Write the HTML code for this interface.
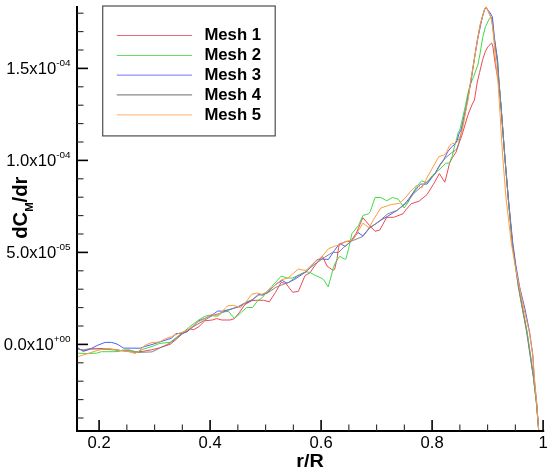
<!DOCTYPE html>
<html><head><meta charset="utf-8"><style>
html,body{margin:0;padding:0;background:#fff;}
svg{display:block;}
text{font-family:"Liberation Sans",Arial,sans-serif;fill:#000;}
.tl{font-size:16px;}
.sup{font-size:9.6px;}
.lg{font-size:16px;font-weight:bold;}
.al{font-size:19px;font-weight:bold;}
.als{font-size:11px;font-weight:bold;}
.ay{font-size:19.6px;font-weight:bold;}
</style></head><body>
<svg width="550" height="472" viewBox="0 0 550 472">
<g fill="none" stroke-width="1" stroke-linejoin="round">
<path d="M77.0 348.5 L78.2 348.5 L83.3 350.6 L90.5 349.2 L97.8 348.5 L106.5 348.5 L114.0 349.5 L121.3 350.6 L128.5 350.3 L135.8 351.7 L143.1 351.4 L146.7 350.6 L152.0 349.7 L159.3 347.9 L170.2 344.3 L176.0 339.5 L182.5 333.7 L188.4 330.5 L190.0 328.9 L193.7 329.7 L198.9 326.7 L204.8 320.8 L212.3 320.0 L216.7 318.6 L221.9 320.0 L230.0 320.0 L233.9 318.9 L239.0 313.0 L245.0 304.5 L251.7 300.7 L256.0 300.3 L263.6 300.3 L268.0 301.5 L269.3 301.8 L275.5 292.3 L281.2 282.3 L286.0 283.7 L292.7 292.3 L298.4 291.3 L305.0 275.6 L310.0 272.8 L315.1 265.2 L322.5 256.3 L327.0 266.0 L332.9 270.3 L334.6 269.4 L337.1 258.4 L338.6 247.3 L339.6 244.2 L342.0 243.1 L346.4 241.4 L350.8 241.4 L356.3 233.1 L362.9 217.7 L369.5 225.4 L375.0 231.3 L379.7 230.1 L386.7 217.3 L393.7 217.3 L403.0 213.8 L406.0 209.7 L411.2 203.8 L419.1 201.1 L427.0 194.6 L433.5 184.1 L439.4 173.6 L444.8 182.2 L446.7 175.0 L449.5 163.3 L452.4 157.6 L456.2 151.9 L459.0 143.3 L462.4 133.8 L463.5 130.0 L467.7 115.6 L471.9 105.0 L474.4 100.0 L475.1 95.9 L477.3 82.0 L479.6 72.4 L482.7 59.5 L485.5 51.2 L488.2 46.4 L491.7 43.0 L493.0 47.1 L494.4 58.1 L495.8 67.7 L497.2 74.8 L499.2 85.0 L501.3 110.0 L504.7 155.0 L508.4 200.0 L512.5 245.0 L515.5 265.0 L518.8 287.0 L523.0 310.0 L527.0 332.0 L530.5 355.0 L533.5 377.0 L536.5 403.0 L538.5 428.0 L538.6 430.5" stroke="#ec4a56"/>
<path d="M77.0 353.2 L78.2 353.2 L86.9 353.5 L96.4 353.2 L101.5 351.7 L114.0 351.7 L119.1 351.4 L123.5 349.9 L129.3 349.9 L134.4 351.7 L138.0 351.7 L143.1 349.2 L152.0 346.5 L159.3 343.5 L170.2 342.3 L176.0 337.7 L182.5 333.0 L190.0 326.5 L197.4 320.8 L204.8 316.3 L209.3 315.2 L214.5 316.0 L218.2 316.0 L222.7 311.9 L227.1 311.5 L229.0 311.8 L234.4 318.5 L240.7 313.0 L246.6 307.5 L252.6 307.5 L257.7 300.7 L262.7 297.3 L266.0 292.3 L271.7 286.6 L281.2 276.1 L287.0 278.0 L292.7 278.0 L299.3 274.7 L306.0 271.8 L310.0 272.4 L315.1 275.3 L321.0 277.9 L323.6 279.6 L328.2 286.8 L331.2 276.2 L333.3 267.7 L335.4 262.6 L339.7 256.3 L344.7 259.2 L345.9 259.0 L348.6 248.6 L351.9 233.7 L358.5 225.4 L362.9 215.5 L368.4 213.9 L370.3 211.5 L375.0 197.5 L380.8 197.5 L386.7 200.8 L392.5 197.5 L398.3 199.2 L404.2 208.0 L408.0 202.5 L411.2 195.9 L416.5 186.7 L421.7 180.8 L427.0 182.8 L432.2 175.6 L440.0 169.0 L445.7 163.3 L449.5 162.9 L452.4 155.7 L454.3 147.1 L456.2 140.5 L458.1 132.9 L459.8 130.0 L465.6 105.0 L467.5 95.0 L469.3 88.0 L471.3 82.0 L473.5 77.0 L477.8 65.0 L480.0 54.0 L482.7 37.5 L485.5 26.5 L489.6 18.2 L491.0 16.9 L492.4 21.0 L494.0 37.5 L497.4 60.0 L499.2 85.0 L501.3 110.0 L504.7 155.0 L508.4 200.0 L512.5 245.0 L515.3 265.0 L518.5 287.0 L522.6 310.0 L527.1 332.0 L530.2 355.0 L533.4 377.0 L536.4 403.0 L538.5 428.0 L538.6 430.5" stroke="#40dc48"/>
<path d="M77.0 348.1 L78.2 348.1 L83.3 351.4 L89.1 349.5 L97.8 345.2 L105.1 342.4 L111.6 342.4 L116.0 343.7 L118.4 344.8 L123.5 348.1 L140.2 348.2 L144.5 346.6 L152.0 344.5 L160.7 341.7 L171.6 338.1 L176.0 333.4 L181.1 333.7 L186.9 331.9 L190.0 329.3 L198.9 320.8 L208.6 316.7 L214.5 313.4 L217.5 311.1 L222.7 311.1 L230.0 309.3 L238.2 307.0 L245.0 303.6 L252.6 299.8 L258.5 294.3 L262.7 295.2 L267.0 292.7 L275.5 284.7 L282.2 280.4 L287.0 283.2 L294.6 279.4 L306.0 271.8 L310.1 267.6 L317.2 259.5 L322.3 259.0 L328.4 259.5 L334.5 250.3 L339.6 243.7 L342.0 244.7 L345.3 246.4 L350.8 241.4 L358.0 232.6 L362.9 235.9 L369.5 227.6 L375.1 224.3 L382.0 219.5 L387.8 216.2 L397.2 210.3 L406.0 202.5 L413.9 192.0 L420.4 184.1 L427.0 184.1 L434.9 173.6 L440.0 164.5 L443.8 159.5 L447.6 151.9 L451.4 147.1 L455.2 143.8 L457.1 140.5 L459.0 133.8 L461.1 130.0 L466.5 105.0 L470.9 82.0 L474.5 58.0 L477.5 40.0 L479.6 30.0 L482.6 16.1 L484.7 9.3 L486.0 7.6 L489.6 12.0 L492.4 16.9 L494.4 37.5 L497.6 60.0 L499.2 85.0 L501.3 110.0 L504.7 155.0 L508.3 198.0 L512.7 242.0 L515.8 265.0 L519.7 287.0 L525.2 310.0 L529.6 332.0 L532.8 355.0 L534.2 378.0 L536.7 403.0 L538.5 428.0 L538.6 430.5" stroke="#5060f5"/>
<path d="M77.0 349.5 L78.2 349.5 L83.3 349.9 L90.5 348.5 L106.5 349.5 L116.0 350.0 L135.8 352.5 L152.0 351.9 L159.3 348.3 L170.2 343.0 L176.0 338.5 L182.5 333.0 L190.0 328.6 L204.8 320.0 L212.3 315.6 L219.7 313.4 L228.0 310.4 L239.0 306.2 L245.0 302.8 L252.6 299.4 L258.5 295.2 L267.0 293.3 L275.5 287.5 L282.2 284.7 L288.9 282.3 L297.4 276.1 L305.0 272.2 L314.2 264.6 L324.4 257.4 L332.5 252.4 L338.6 252.4 L343.0 248.0 L350.8 241.4 L362.9 236.4 L369.5 228.2 L379.7 220.8 L387.8 213.8 L397.2 210.3 L407.0 202.6 L413.9 193.3 L423.0 185.4 L434.9 174.3 L440.0 165.2 L445.7 157.6 L451.4 152.9 L455.2 150.5 L456.7 149.0 L459.0 142.4 L461.8 130.0 L466.7 105.0 L470.6 82.0 L474.2 60.0 L477.3 40.0 L480.0 25.4 L482.5 16.1 L484.6 9.3 L486.0 7.0 L488.4 11.6 L491.1 17.8 L492.6 25.4 L494.0 37.5 L497.0 60.0 L499.2 85.0 L501.3 110.0 L504.7 155.0 L508.4 200.0 L512.5 245.0 L515.3 265.0 L518.3 287.0 L522.6 310.0 L526.6 332.0 L530.0 355.0 L533.4 377.0 L536.4 403.0 L538.5 428.0 L538.6 430.5" stroke="#858585"/>
<path d="M77.0 356.7 L78.2 356.5 L86.9 353.9 L97.8 350.3 L106.5 348.5 L114.0 349.5 L121.3 350.6 L128.5 351.4 L135.1 353.5 L139.5 350.6 L144.5 345.5 L152.0 342.5 L159.3 342.1 L165.1 338.8 L171.6 336.6 L179.6 333.0 L186.2 330.8 L190.0 328.2 L197.4 322.3 L204.8 318.6 L211.5 314.5 L216.7 316.0 L221.9 311.9 L226.0 307.4 L228.0 305.8 L233.1 305.3 L240.7 307.5 L245.0 303.2 L251.7 294.3 L256.8 293.0 L261.9 294.3 L266.0 292.3 L275.5 284.7 L281.2 279.9 L287.9 278.0 L293.6 273.2 L298.4 269.0 L302.2 269.9 L306.0 270.4 L314.2 262.5 L321.3 257.4 L328.4 248.8 L334.5 246.2 L339.6 245.2 L342.0 243.6 L346.4 241.4 L353.0 239.8 L362.9 223.2 L369.0 227.7 L374.5 218.0 L380.8 208.0 L391.3 204.5 L399.5 203.3 L406.0 197.2 L409.9 192.0 L416.5 185.4 L421.7 188.0 L425.7 180.2 L432.2 168.4 L438.8 156.6 L443.8 155.2 L446.7 151.9 L449.5 145.7 L452.4 143.3 L455.2 143.8 L457.6 141.4 L460.5 135.7 L462.4 130.0 L466.9 105.0 L468.1 100.0 L470.4 82.5 L473.3 65.0 L475.1 55.0 L477.5 40.0 L480.1 25.4 L482.6 16.1 L484.7 9.3 L486.0 6.8 L488.4 11.4 L491.1 17.8 L492.4 25.4 L493.7 37.5 L495.5 60.0 L498.2 85.0 L499.8 110.0 L502.6 155.0 L506.0 198.0 L511.3 243.0 L515.0 265.0 L519.6 288.0 L524.2 310.0 L529.3 332.0 L532.8 355.0 L534.4 378.0 L536.7 403.0 L538.5 428.0 L538.6 430.5" stroke="#ff9c40"/>
</g>
<path d="M77.0 6.0 V431.0 H544.2" fill="none" stroke="#000" stroke-width="2"/>
<line x1="77.0" y1="418.00" x2="83.50" y2="418.00" stroke="#2a2a2a" stroke-width="1.1"/>
<line x1="77.0" y1="399.60" x2="83.50" y2="399.60" stroke="#2a2a2a" stroke-width="1.1"/>
<line x1="77.0" y1="381.20" x2="83.50" y2="381.20" stroke="#2a2a2a" stroke-width="1.1"/>
<line x1="77.0" y1="362.80" x2="83.50" y2="362.80" stroke="#2a2a2a" stroke-width="1.1"/>
<line x1="77.0" y1="344.40" x2="88.00" y2="344.40" stroke="#000" stroke-width="1.6"/>
<line x1="77.0" y1="326.00" x2="83.50" y2="326.00" stroke="#2a2a2a" stroke-width="1.1"/>
<line x1="77.0" y1="307.60" x2="83.50" y2="307.60" stroke="#2a2a2a" stroke-width="1.1"/>
<line x1="77.0" y1="289.20" x2="83.50" y2="289.20" stroke="#2a2a2a" stroke-width="1.1"/>
<line x1="77.0" y1="270.80" x2="83.50" y2="270.80" stroke="#2a2a2a" stroke-width="1.1"/>
<line x1="77.0" y1="252.40" x2="88.00" y2="252.40" stroke="#000" stroke-width="1.6"/>
<line x1="77.0" y1="234.00" x2="83.50" y2="234.00" stroke="#2a2a2a" stroke-width="1.1"/>
<line x1="77.0" y1="215.60" x2="83.50" y2="215.60" stroke="#2a2a2a" stroke-width="1.1"/>
<line x1="77.0" y1="197.20" x2="83.50" y2="197.20" stroke="#2a2a2a" stroke-width="1.1"/>
<line x1="77.0" y1="178.80" x2="83.50" y2="178.80" stroke="#2a2a2a" stroke-width="1.1"/>
<line x1="77.0" y1="160.40" x2="88.00" y2="160.40" stroke="#000" stroke-width="1.6"/>
<line x1="77.0" y1="142.00" x2="83.50" y2="142.00" stroke="#2a2a2a" stroke-width="1.1"/>
<line x1="77.0" y1="123.60" x2="83.50" y2="123.60" stroke="#2a2a2a" stroke-width="1.1"/>
<line x1="77.0" y1="105.20" x2="83.50" y2="105.20" stroke="#2a2a2a" stroke-width="1.1"/>
<line x1="77.0" y1="86.80" x2="83.50" y2="86.80" stroke="#2a2a2a" stroke-width="1.1"/>
<line x1="77.0" y1="68.40" x2="88.00" y2="68.40" stroke="#000" stroke-width="1.6"/>
<line x1="77.0" y1="50.00" x2="83.50" y2="50.00" stroke="#2a2a2a" stroke-width="1.1"/>
<line x1="77.0" y1="31.60" x2="83.50" y2="31.60" stroke="#2a2a2a" stroke-width="1.1"/>
<line x1="77.0" y1="13.20" x2="83.50" y2="13.20" stroke="#2a2a2a" stroke-width="1.1"/>
<line x1="99.10" y1="431.0" x2="99.10" y2="420.00" stroke="#000" stroke-width="1.6"/>
<line x1="126.85" y1="431.0" x2="126.85" y2="424.50" stroke="#2a2a2a" stroke-width="1.1"/>
<line x1="154.60" y1="431.0" x2="154.60" y2="424.50" stroke="#2a2a2a" stroke-width="1.1"/>
<line x1="182.35" y1="431.0" x2="182.35" y2="424.50" stroke="#2a2a2a" stroke-width="1.1"/>
<line x1="210.10" y1="431.0" x2="210.10" y2="420.00" stroke="#000" stroke-width="1.6"/>
<line x1="237.85" y1="431.0" x2="237.85" y2="424.50" stroke="#2a2a2a" stroke-width="1.1"/>
<line x1="265.60" y1="431.0" x2="265.60" y2="424.50" stroke="#2a2a2a" stroke-width="1.1"/>
<line x1="293.35" y1="431.0" x2="293.35" y2="424.50" stroke="#2a2a2a" stroke-width="1.1"/>
<line x1="321.10" y1="431.0" x2="321.10" y2="420.00" stroke="#000" stroke-width="1.6"/>
<line x1="348.85" y1="431.0" x2="348.85" y2="424.50" stroke="#2a2a2a" stroke-width="1.1"/>
<line x1="376.60" y1="431.0" x2="376.60" y2="424.50" stroke="#2a2a2a" stroke-width="1.1"/>
<line x1="404.35" y1="431.0" x2="404.35" y2="424.50" stroke="#2a2a2a" stroke-width="1.1"/>
<line x1="432.10" y1="431.0" x2="432.10" y2="420.00" stroke="#000" stroke-width="1.6"/>
<line x1="459.85" y1="431.0" x2="459.85" y2="424.50" stroke="#2a2a2a" stroke-width="1.1"/>
<line x1="487.60" y1="431.0" x2="487.60" y2="424.50" stroke="#2a2a2a" stroke-width="1.1"/>
<line x1="515.35" y1="431.0" x2="515.35" y2="424.50" stroke="#2a2a2a" stroke-width="1.1"/>
<line x1="543.10" y1="431.0" x2="543.10" y2="420.00" stroke="#000" stroke-width="1.6"/>
<text transform="translate(99.10,448.00) scale(1.04,1)" text-anchor="middle" class="tl">0.2</text><text transform="translate(210.10,448.00) scale(1.04,1)" text-anchor="middle" class="tl">0.4</text><text transform="translate(321.10,448.00) scale(1.04,1)" text-anchor="middle" class="tl">0.6</text><text transform="translate(432.10,448.00) scale(1.04,1)" text-anchor="middle" class="tl">0.8</text><text transform="translate(543.10,448.00) scale(1.04,1)" text-anchor="middle" class="tl">1</text>
<text transform="translate(70.6,74.00) scale(1.04,1)" text-anchor="end" class="tl">1.5x10<tspan class="sup" dy="-7.6">-04</tspan></text><text transform="translate(70.6,166.00) scale(1.04,1)" text-anchor="end" class="tl">1.0x10<tspan class="sup" dy="-7.6">-04</tspan></text><text transform="translate(70.6,258.00) scale(1.04,1)" text-anchor="end" class="tl">5.0x10<tspan class="sup" dy="-7.6">-05</tspan></text><text transform="translate(70.6,350.00) scale(1.04,1)" text-anchor="end" class="tl">0.0x10<tspan class="sup" dy="-7.6">+00</tspan></text>
<rect x="102.7" y="6" width="172.5" height="129.9" fill="#fff" stroke="#555" stroke-width="1.25"/>
<line x1="116.8" y1="35.5" x2="192.1" y2="35.5" stroke="#e56a72" stroke-width="1.2"/><text transform="translate(204.40,40.30) scale(1.045,1)" class="lg">Mesh 1</text><line x1="116.8" y1="55.5" x2="192.1" y2="55.5" stroke="#66dd66" stroke-width="1.2"/><text transform="translate(204.40,60.30) scale(1.045,1)" class="lg">Mesh 2</text><line x1="116.8" y1="75.2" x2="192.1" y2="75.2" stroke="#8f8ff5" stroke-width="1.2"/><text transform="translate(204.40,80.00) scale(1.045,1)" class="lg">Mesh 3</text><line x1="116.8" y1="94.9" x2="192.1" y2="94.9" stroke="#8a8a8a" stroke-width="1.2"/><text transform="translate(204.40,99.70) scale(1.045,1)" class="lg">Mesh 4</text><line x1="116.8" y1="114.8" x2="192.1" y2="114.8" stroke="#ffbf8a" stroke-width="1.2"/><text transform="translate(204.40,119.60) scale(1.045,1)" class="lg">Mesh 5</text>
<text transform="translate(310,466.5) scale(1.04,1)" text-anchor="middle" class="al">r/R</text>
<text transform="translate(26.9,238.7) rotate(-90) scale(1.03,1)" class="ay">dC<tspan class="als" dy="6">M</tspan><tspan dy="-6">/dr</tspan></text>
</svg>
</body></html>
